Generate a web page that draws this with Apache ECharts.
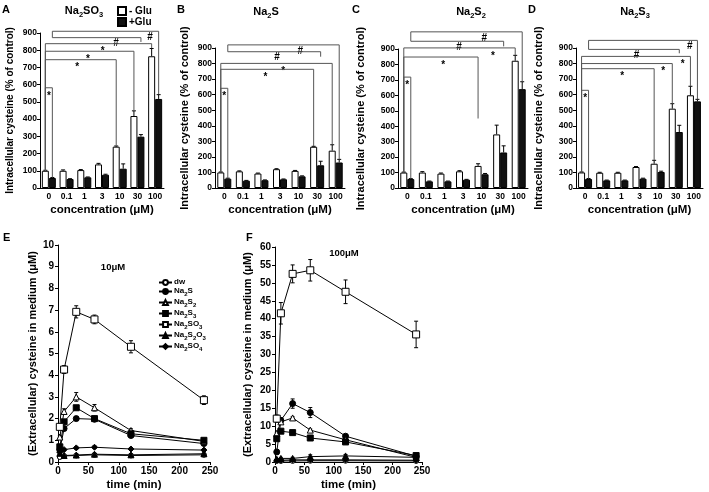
<!DOCTYPE html>
<html>
<head>
<meta charset="utf-8">
<script src="https://cdn.jsdelivr.net/npm/echarts@6/dist/echarts.min.js"></script>
<style>html,body{margin:0;padding:0;background:#fff}#container{width:709px;height:492px}</style>
</head>
<body>
<div id="container"></div>
<script>
var FONT = 'Liberation Sans, Arial, sans-serif';

// ---- panels A-D : intracellular cysteine (% of control) ----
var concLabels = ['0', '0.1', '1', '3', '10', '30', '100'];

var aMinus = [100, 100, 104, 137, 240, 418, 765];
var aMinusErr = [3, 5, 3, 6, 4, 30, 45];
var aPlus = [58, 52, 62, 77, 112, 298, 517];
var aPlusErr = [3, 2, 2, 3, 28, 12, 25];

var bMinus = [100, 107, 93, 121, 110, 265, 240];
var bMinusErr = [3, 3, 3, 3, 3, 3, 38];
var bPlus = [60, 47, 50, 56, 75, 146, 164];
var bPlusErr = [3, 2, 2, 2, 3, 26, 20];

var cMinus = [100, 100, 93, 108, 143, 347, 824];
var cMinusErr = [3, 6, 4, 4, 14, 60, 35];
var cPlus = [58, 43, 43, 54, 89, 230, 640];
var cPlusErr = [3, 2, 2, 2, 5, 43, 48];

var dMinus = [100, 98, 98, 135, 156, 510, 596];
var dMinusErr = [3, 3, 3, 3, 22, 32, 58];
var dPlus = [58, 49, 49, 60, 103, 360, 557];
var dPlusErr = [3, 2, 2, 3, 5, 43, 13];

// brackets: [fromIdx, fromSide, toIdx, toSide, level, fromBottom, toBottom, labelPos, label]
var aBrackets = [
  [0, 1, 6, 1, 910, 873, 545, 0.92, '#'],
  [0, 1, 5, 1, 873, 873, 848, 0.72, '#'],
  [0, -1, 6, -1, 838, 100, 812, 0.54, '*'],
  [0, -1, 5, -1, 794, 100, 450, 0.48, '*'],
  [0, -1, 4, -1, 745, 100, 245, 0.45, '*'],
  [0, -1, 0, 1, 582, 100, 60, 0.5, '*']
];
var bBrackets = [
  [0, 1, 6, 1, 920, 876, 184, 0.65, '#'],
  [0, 1, 5, 1, 876, 876, 844, 0.53, '#'],
  [0, -1, 6, -1, 801, 100, 280, 0.56, '*'],
  [0, -1, 5, -1, 763, 100, 268, 0.48, '*'],
  [0, -1, 0, 1, 641, 100, 62, 0.5, '*']
];
var cBrackets = [
  [0, 1, 6, 1, 1011, 950, 688, 0.66, '#'],
  [0, 1, 5, 1, 950, 950, 917, 0.52, '#'],
  [0, -1, 6, -1, 907, 100, 859, 0.8, '*'],
  [0, -1, 4, -1, 848, 100, 450, 0.53, '*'],
  [0, -1, 0, 1, 718, 100, 60, 0.5, '*']
];
var dBrackets = [
  [0, 1, 6, 1, 949, 891, 570, 0.93, '#'],
  [0, 1, 5, 1, 891, 891, 866, 0.53, '#'],
  [0, -1, 6, -1, 846, 100, 654, 0.93, '*'],
  [0, -1, 5, -1, 800, 100, 542, 0.9, '*'],
  [0, -1, 4, -1, 767, 100, 178, 0.56, '*'],
  [0, -1, 0, 1, 628, 100, 60, 0.5, '*']
];

// ---- panels E-F : extracellular cysteine in medium (uM) ----
var seriesNames = ['dw', 'Na2S', 'Na2S2', 'Na2S3', 'Na2SO3', 'Na2S2O3', 'Na2SO4'];
var timePoints = [3, 10, 30, 60, 120, 240];

var eValues = [
  [0.23, 0.28, 0.30, 0.33, 0.30, 0.33],
  [0.55, 1.54, 2.00, 1.97, 1.22, 0.85],
  [1.15, 2.33, 3.00, 2.50, 1.45, 0.95],
  [0.70, 1.85, 2.50, 2.00, 1.30, 1.00],
  [1.62, 4.26, 6.92, 6.57, 5.31, 2.85],
  [0.40, 0.30, 0.32, 0.36, 0.33, 0.38],
  [0.45, 0.57, 0.65, 0.68, 0.60, 0.55]
];
var eErrors = [
  [0.03, 0.03, 0.03, 0.03, 0.03, 0.03],
  [0.04, 0.08, 0.08, 0.08, 0.06, 0.05],
  [0.05, 0.12, 0.20, 0.15, 0.08, 0.05],
  [0.04, 0.08, 0.08, 0.08, 0.06, 0.05],
  [0.12, 0.18, 0.28, 0.20, 0.28, 0.20],
  [0.03, 0.03, 0.03, 0.03, 0.03, 0.03],
  [0.04, 0.05, 0.05, 0.06, 0.05, 0.05]
];
var fValues = [
  [0.3, 0.3, 0.3, 0.35, 0.35, 0.3],
  [2.8, 11.6, 16.3, 13.8, 7.2, 1.6],
  [8.0, 11.2, 12.3, 8.9, 6.2, 1.3],
  [6.5, 8.6, 8.2, 6.7, 5.6, 1.8],
  [12.1, 41.5, 52.5, 53.5, 47.5, 35.6],
  [0.8, 1.0, 1.0, 1.5, 1.7, 1.3],
  [0.5, 0.5, 0.6, 0.6, 0.6, 0.5]
];
var fErrors = [
  [0.1, 0.1, 0.1, 0.1, 0.1, 0.1],
  [0.3, 0.8, 1.3, 1.4, 0.5, 0.3],
  [0.3, 0.4, 0.3, 0.3, 0.3, 0.2],
  [0.3, 0.4, 0.3, 0.3, 0.3, 0.3],
  [1.0, 3.0, 2.5, 3.0, 3.3, 3.7],
  [0.2, 0.3, 0.3, 0.5, 0.4, 0.3],
  [0.1, 0.1, 0.1, 0.1, 0.1, 0.1]
];

var markerShapes = ['circle', 'circle', 'triangle', 'rect', 'rect', 'triangle', 'diamond'];
var markerFills = ['#fff', '#000', '#fff', '#000', '#fff', '#000', '#000'];
var markerSizes = [5, 6, 6, 6, 7, 6, 6];

// chemical formula -> rich text with subscript digits
function subText(s) {
  return s.replace(/(\d+)|(\D+)/g, function (m, d, t) {
    return d ? '{s|' + d + '}' : '{n|' + t + '}';
  });
}
function richStyle(size, subSize, drop) {
  return {
    n: {fontSize: size, fontWeight: 'bold', fontFamily: FONT, color: '#000', lineHeight: size + 1, verticalAlign: 'top'},
    s: {fontSize: subSize, fontWeight: 'bold', fontFamily: FONT, color: '#000', lineHeight: subSize + 1, padding: [drop, 0, 0, 0], verticalAlign: 'top'}
  };
}

var dom = document.getElementById('container');
var myChart = echarts.init(dom, null, {renderer: 'canvas'});

var barPanels = [
  {grid: {left: 40, top: 33, width: 124, height: 155}, minus: aMinus, minusErr: aMinusErr, plus: aPlus, plusErr: aPlusErr, brackets: aBrackets, nameSize: 10, nameGap: 25},
  {grid: {left: 215, top: 48, width: 130, height: 140}, minus: bMinus, minusErr: bMinusErr, plus: bPlus, plusErr: bPlusErr, brackets: bBrackets, nameSize: 11, nameGap: 25},
  {grid: {left: 398, top: 49, width: 130, height: 139}, minus: cMinus, minusErr: cMinusErr, plus: cPlus, plusErr: cPlusErr, brackets: cBrackets, nameSize: 11, nameGap: 32},
  {grid: {left: 576, top: 48, width: 127, height: 140}, minus: dMinus, minusErr: dMinusErr, plus: dPlus, plusErr: dPlusErr, brackets: dBrackets, nameSize: 11, nameGap: 32}
];

var grids = [], xAxes = [], yAxes = [], series = [];
var axisLine = {show: true, lineStyle: {color: '#000', width: 1}};

var BAR_W = 7;
var HALF_BAR = BAR_W / 2;

function barErrRender(params, api) {
  var x = api.coord([api.value(0), 0])[0] + api.value(3) * HALF_BAR;
  var yT = api.coord([api.value(0), api.value(1)])[1];
  var yE = api.coord([api.value(0), api.value(1) + api.value(2)])[1];
  var st = {stroke: '#000', lineWidth: 1};
  return {type: 'group', children: [
    {type: 'line', shape: {x1: x, y1: yT, x2: x, y2: yE}, style: st},
    {type: 'line', shape: {x1: x - 2, y1: yE, x2: x + 2, y2: yE}, style: st}
  ]};
}

function bracketRender(labels) {
  return function (params, api) {
    var x1 = api.coord([api.value(0), 0])[0] + api.value(1) * HALF_BAR;
    var x2 = api.coord([api.value(2), 0])[0] + api.value(3) * HALF_BAR;
    var yl = api.coord([0, api.value(4)])[1];
    var y1 = api.coord([0, api.value(5)])[1];
    var y2 = api.coord([0, api.value(6)])[1];
    var t = api.value(7);
    var lab = labels[params.dataIndex];
    return {type: 'group', children: [
      {type: 'polyline', shape: {points: [[x1, y1], [x1, yl], [x2, yl], [x2, y2]]},
        style: {stroke: '#555', lineWidth: 1, fill: 'none'}},
      {type: 'text', x: x1 + t * (x2 - x1), y: yl + (lab === '*' ? 8 : 6),
        style: {text: lab, fill: '#000', font: 'bold 10px ' + FONT, align: 'center', verticalAlign: 'middle'}}
    ]};
  };
}

barPanels.forEach(function (p, i) {
  grids.push(p.grid);
  xAxes.push({
    gridIndex: i, type: 'category', data: concLabels,
    axisLine: axisLine, axisTick: {show: false},
    axisLabel: {color: '#000', fontSize: 8.5, fontWeight: 'bold', fontFamily: FONT, margin: 4, interval: 0},
    name: 'concentration (\u03bcM)', nameLocation: 'middle', nameGap: 16,
    nameTextStyle: {color: '#000', fontSize: 11.5, fontWeight: 'bold', fontFamily: FONT}
  });
  yAxes.push({
    gridIndex: i, type: 'value', min: 0, max: 900, interval: 100,
    axisLine: axisLine, axisTick: {show: true, length: 3, lineStyle: {color: '#000'}},
    splitLine: {show: false},
    axisLabel: {color: '#000', fontSize: 8.5, fontWeight: 'bold', fontFamily: FONT, margin: 3},
    name: 'Intracellular cysteine (% of control)', nameLocation: 'middle', nameRotate: 90, nameGap: p.nameGap,
    nameTextStyle: {color: '#000', fontSize: p.nameSize, fontWeight: 'bold', fontFamily: FONT}
  });
  series.push({
    type: 'bar', name: '- Glu', xAxisIndex: i, yAxisIndex: i, data: p.minus,
    barWidth: BAR_W, barGap: '0%', itemStyle: {color: '#fff', borderColor: '#000', borderWidth: 1}
  });
  series.push({
    type: 'bar', name: '+Glu', xAxisIndex: i, yAxisIndex: i, data: p.plus,
    barWidth: BAR_W, barGap: '0%', itemStyle: {color: '#111', borderColor: '#000', borderWidth: 1}
  });
  var errData = [];
  p.minus.forEach(function (v, k) { errData.push([k, v, p.minusErr[k], -1]); });
  p.plus.forEach(function (v, k) { errData.push([k, v, p.plusErr[k], 1]); });
  series.push({type: 'custom', xAxisIndex: i, yAxisIndex: i, data: errData, renderItem: barErrRender, silent: true, z: 5});
  series.push({
    type: 'custom', xAxisIndex: i, yAxisIndex: i, silent: true, z: 6, clip: false,
    data: p.brackets.map(function (b) { return b.slice(0, 8); }),
    renderItem: bracketRender(p.brackets.map(function (b) { return b[8]; }))
  });
});

var linePanels = [
  {grid: {left: 58, top: 245, width: 152, height: 217}, max: 10, interval: 1, values: eValues, errors: eErrors, nameGap: 20},
  {grid: {left: 275, top: 247, width: 147, height: 215}, max: 60, interval: 5, values: fValues, errors: fErrors, nameGap: 22}
];

function lineErrRender(params, api) {
  var x = api.coord([api.value(0), api.value(1)])[0];
  var lo = api.coord([api.value(0), api.value(1) - api.value(2)])[1];
  var hi = api.coord([api.value(0), api.value(1) + api.value(2)])[1];
  var st = {stroke: '#000', lineWidth: 1};
  return {type: 'group', children: [
    {type: 'line', shape: {x1: x, y1: lo, x2: x, y2: hi}, style: st},
    {type: 'line', shape: {x1: x - 2, y1: hi, x2: x + 2, y2: hi}, style: st},
    {type: 'line', shape: {x1: x - 2, y1: lo, x2: x + 2, y2: lo}, style: st}
  ]};
}

linePanels.forEach(function (p, j) {
  var i = 4 + j;
  grids.push(p.grid);
  xAxes.push({
    gridIndex: i, type: 'value', min: 0, max: 250, interval: 50,
    axisLine: axisLine, axisTick: {show: true, length: 3, lineStyle: {color: '#000'}},
    splitLine: {show: false},
    axisLabel: {color: '#000', fontSize: 10, fontWeight: 'bold', fontFamily: FONT, margin: 4},
    name: 'time (min)', nameLocation: 'middle', nameGap: 17,
    nameTextStyle: {color: '#000', fontSize: 11.5, fontWeight: 'bold', fontFamily: FONT}
  });
  yAxes.push({
    gridIndex: i, type: 'value', min: 0, max: p.max, interval: p.interval,
    axisLine: axisLine, axisTick: {show: true, length: 3, lineStyle: {color: '#000'}},
    splitLine: {show: false},
    axisLabel: {color: '#000', fontSize: 10, fontWeight: 'bold', fontFamily: FONT, margin: 4},
    name: '(Extracellular) cysteine in medium (\u03bcM)', nameLocation: 'middle', nameRotate: 90, nameGap: p.nameGap,
    nameTextStyle: {color: '#000', fontSize: 11, fontWeight: 'bold', fontFamily: FONT}
  });
  var errData = [];
  seriesNames.forEach(function (name, s) {
    series.push({
      type: 'line', name: name, xAxisIndex: i, yAxisIndex: i,
      data: timePoints.map(function (t, k) { return [t, p.values[s][k]]; }),
      symbol: markerShapes[s], symbolSize: markerSizes[s], showSymbol: true,
      itemStyle: {color: markerFills[s], borderColor: '#000', borderWidth: 1},
      lineStyle: {color: '#000', width: 1},
      z: s === 4 ? 4 : 3
    });
    timePoints.forEach(function (t, k) { errData.push([t, p.values[s][k], p.errors[s][k]]); });
  });
  series.push({type: 'custom', xAxisIndex: i, yAxisIndex: i, data: errData, renderItem: lineErrRender, silent: true, z: 2});
});

function label(text, left, top, size) {
  return {text: text, left: left, top: top, padding: 0,
    textStyle: {color: '#000', fontSize: size, fontWeight: 'bold', fontFamily: FONT}};
}
function formula(text, center, top) {
  return {text: subText(text), left: center, top: top, padding: 0, textAlign: 'center',
    textStyle: {rich: richStyle(11, 7.5, 6)}};
}

var option = {
  animation: false,
  backgroundColor: '#fff',
  title: [
    label('A', 2, 4, 11), label('B', 177, 4, 11), label('C', 352, 4, 11), label('D', 528, 4, 11),
    label('E', 3, 232, 11), label('F', 246, 232, 11),
    formula('Na2SO3', 84, 5), formula('Na2S', 266, 6), formula('Na2S2', 471, 6), formula('Na2S3', 635, 6),
    {text: '10\u03bcM', left: 113, top: 262, padding: 0, textAlign: 'center',
      textStyle: {color: '#000', fontSize: 9.5, fontWeight: 'bold', fontFamily: FONT}},
    {text: '100\u03bcM', left: 344, top: 248, padding: 0, textAlign: 'center',
      textStyle: {color: '#000', fontSize: 9.5, fontWeight: 'bold', fontFamily: FONT}}
  ],
  legend: [
    {data: ['- Glu', '+Glu'], orient: 'vertical', left: 117, top: 6, icon: 'rect', itemWidth: 8, itemHeight: 8, itemGap: 1,
      selectedMode: false, padding: 0,
      textStyle: {color: '#000', fontSize: 10, fontWeight: 'bold', fontFamily: FONT, padding: [0, 0, 0, -2]}},
    {data: seriesNames, orient: 'vertical', left: 158, top: 278, itemWidth: 13, itemHeight: 6, itemGap: 1,
      selectedMode: false, padding: 0,
      formatter: function (name) { return subText(name); },
      textStyle: {padding: [0, 0, 0, -3], rich: richStyle(8, 6, 4)}}
  ],
  grid: grids,
  xAxis: xAxes,
  yAxis: yAxes,
  series: series
};

if (option && typeof option === 'object') {
  myChart.setOption(option);
}

window.addEventListener('resize', myChart.resize);
</script>
</body>
</html>
